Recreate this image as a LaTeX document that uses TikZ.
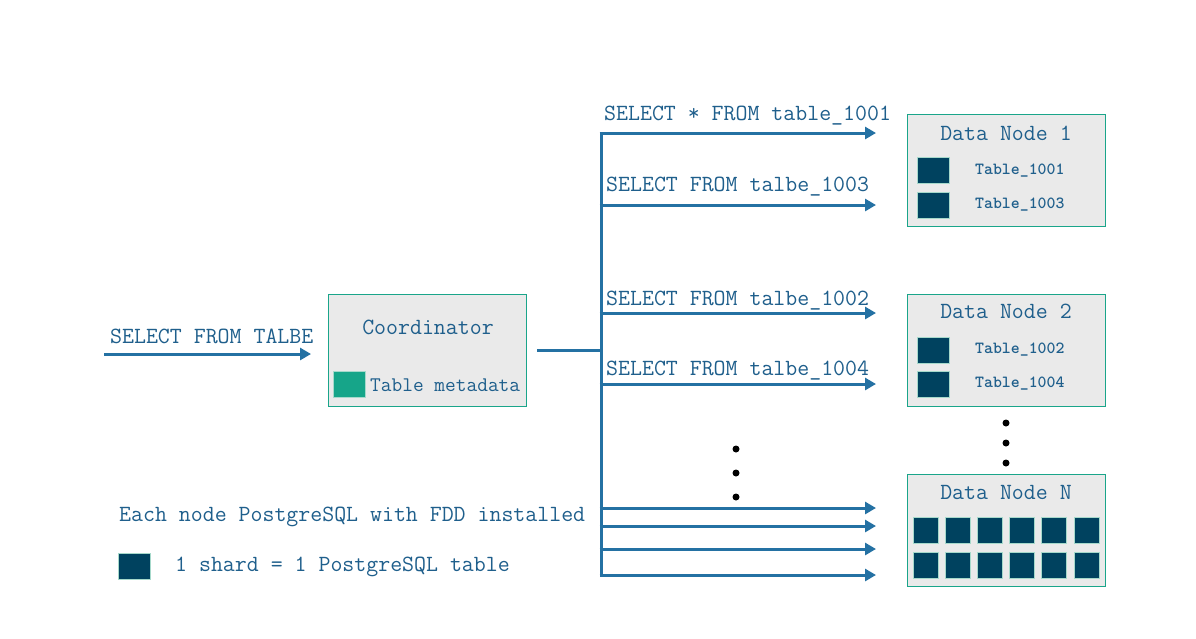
\documentclass[tikz,border=0pt]{standalone}
\usepackage{fontspec}
\usetikzlibrary{arrows.meta}

\definecolor{txtblue}{HTML}{1F5F8C}
\definecolor{lineblue}{HTML}{2471A3}
\definecolor{boxteal}{HTML}{1AA58A}
\definecolor{boxgray}{HTML}{EAEAEA}
\definecolor{shardblue}{HTML}{00425F}
\definecolor{shardedge}{HTML}{A6D9CB}
\definecolor{metateal}{HTML}{16A589}

\tikzset{
  hostbox/.style={draw=boxteal, fill=boxgray, line width=1pt, minimum width=198pt, minimum height=112pt, inner sep=0pt},
  shardbox/.style={draw=shardedge, fill=shardblue, line width=1pt, minimum width=32pt, minimum height=26pt, inner sep=0pt},
  smallshard/.style={shardbox, minimum width=25pt},
  bigtxt/.style={text=txtblue, font=\ttfamily\fontsize{23.2}{26}\selectfont, inner sep=0pt},
  tbltxt/.style={text=txtblue, font=\ttfamily\fontsize{17}{20}\selectfont\bfseries, inner sep=0pt},
  flow/.style={draw=lineblue, line width=3pt, -{Triangle[length=11pt,width=12pt]}},
  bus/.style={draw=lineblue, line width=3pt},
  dot/.style={circle, fill=black, minimum size=7pt, inner sep=0pt}
}

\begin{document}
\begin{tikzpicture}[x=1pt,y=-1pt]

      \useasboundingbox[fill=white] (0,0) rectangle (1196,638);

      % boxes
      \node[hostbox] (coord) at (427,350)   {};
      \node[hostbox] (dn1)   at (1006,170)  {};
      \node[hostbox] (dn2)   at (1006,350)  {};
      \node[hostbox] (dnn)   at (1006,530.5) {};

      \node[bigtxt] (coordtitle) at (428,327)  {Coordinator};
      \node[bigtxt] (dn1title)   at (1006,133) {Data Node 1};
      \node[bigtxt] (dn2title)   at (1006,311) {Data Node 2};
      \node[bigtxt] (dnntitle)   at (1006,492) {Data Node N};

      % coordinator metadata
      \node[shardbox, fill=metateal] (meta) at (349,384) {};
      \node[bigtxt, font=\ttfamily\fontsize{20.8}{24}\selectfont, anchor=west] (metatxt) at (370,385) {Table metadata};

      % shards on data node 1 and 2
      \node[shardbox] (s1001) at (933,170) {};
      \node[shardbox] (s1003) at (933,205) {};
      \node[shardbox] (s1002) at (933,350) {};
      \node[shardbox] (s1004) at (933,384) {};
      \node[tbltxt, anchor=west] (t1001) at (975,171) {Table\_1001};
      \node[tbltxt, anchor=west] (t1003) at (975,205) {Table\_1003};
      \node[tbltxt, anchor=west] (t1002) at (975,350) {Table\_1002};
      \node[tbltxt, anchor=west] (t1004) at (975,384) {Table\_1004};

      % shards on data node N
      \foreach \col in {0,...,5} {
        \node[smallshard] (sa\col) at (925.5+32.2*\col,530) {};
        \node[smallshard] (sb\col) at (925.5+32.2*\col,565.5) {};
      }

      % legend
      \node[shardbox] (legshard) at (134,566) {};
      \node[bigtxt, anchor=west] (legtxt) at (175,567) {1 shard = 1 PostgreSQL table};
      \node[bigtxt, anchor=west] (eachtxt) at (119,517) {Each node PostgreSQL with FDD installed};

      % dots
      \node[dot] (d1) at (736,449) {};
      \node[dot] (d2) at (736,473) {};
      \node[dot] (d3) at (736,497) {};
      \node[dot] (d4) at (1006,423) {};
      \node[dot] (d5) at (1006,443) {};
      \node[dot] (d6) at (1006,463) {};

      % incoming query
      \coordinate (qin)  at (104,354);
      \coordinate (qend) at (311,354);
      \path[flow] (qin) -- (qend);
      \node[bigtxt, anchor=west] (qtxt) at (110,336) {SELECT FROM TALBE};

      % bus
      \coordinate (cout)   at (537,350);
      \coordinate (bmid)   at (601,350);
      \coordinate (btop)   at (601,133);
      \coordinate (bbot)   at (601,575);
      \path[bus] (cout) -- (bmid);
      \path[bus] ([yshift=-1.5pt]btop) -- ([yshift=1.5pt]bbot);

      \foreach \y/\nm in {133/a,205/b,313/c,384/d,508/e,526/f,549/g,575/h} {
        \coordinate (b\nm) at (601,\y);
        \coordinate (e\nm) at (876,\y);
        \path[flow] ([xshift=-1.5pt]b\nm) -- (e\nm);
      }

      \node[bigtxt, anchor=west] (q1001) at (604,116) {SELECT * FROM table\_1001};
      \node[bigtxt, anchor=west] (q1003) at (606,187) {SELECT FROM talbe\_1003};
      \node[bigtxt, anchor=west] (q1002) at (606,301) {SELECT FROM talbe\_1002};
      \node[bigtxt, anchor=west] (q1004) at (606,371) {SELECT FROM talbe\_1004};

    \end{tikzpicture}
\end{document}
